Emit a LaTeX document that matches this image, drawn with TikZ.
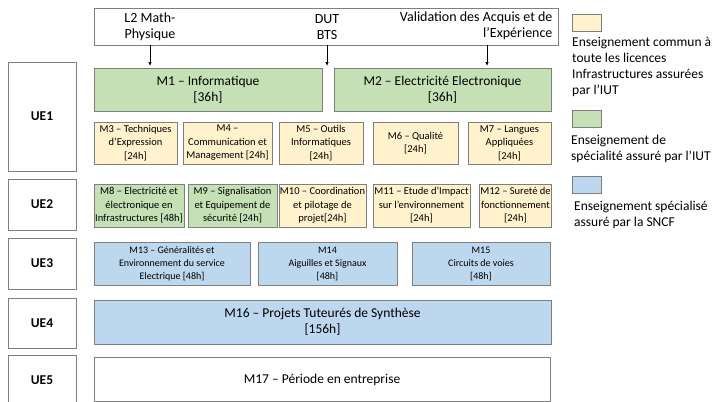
\documentclass[tikz,border=0pt]{standalone}
\usepackage{fontspec}
\setmainfont{Carlito}
\usetikzlibrary{arrows.meta}

\definecolor{jaune}{HTML}{FFF2CC}
\definecolor{vert}{HTML}{C5E0B4}
\definecolor{bleu}{HTML}{BDD7EE}
\definecolor{bord}{HTML}{7F7F7F}

\tikzset{
	boite/.style={draw=bord, line width=0.75pt, align=center, inner sep=1pt, outer sep=0pt},
	ue/.style={boite, fill=white, minimum width=68pt, font=\fontsize{13.5}{15}\selectfont\bfseries},
	grand/.style={boite, font=\fontsize{13.5}{16}\selectfont},
	petit/.style={boite, fill=jaune, font=\fontsize{10.5}{13.5}\selectfont},
	sncf/.style={boite, fill=bleu, font=\fontsize{10}{13}\selectfont},
	entree/.style={font=\fontsize{14}{16}\selectfont},
	carre/.style={boite, minimum width=29pt, minimum height=17pt},
	legende/.style={anchor=north west, align=left, inner sep=0pt, font=\fontsize{13.5}{16}\selectfont},
	fleche/.style={-{Latex[length=4pt,width=3.5pt]}, line width=0.7pt, shorten >=2pt}
}

\begin{document}
\begin{tikzpicture}[x=1pt,y=-1pt]
	\useasboundingbox (0,0) rectangle (716,402);
	% entrees
	\node[grand, minimum width=464pt, minimum height=37pt] (top) at (326,26.5) {};
	\node[entree, align=center] (l2) at (150,27) {L2 Math-\\Physique};
	\node[entree, align=center] (dut) at (327,27) {DUT\\BTS};
	\node[entree, align=right, anchor=east] (vae) at (556,26) {Validation des Acquis et de\\l’Expérience};
	\coordinate (pvae) at (487,45);
	% unites
	\node[ue, minimum height=109pt] (ue1) at (42,116.5) {UE1};
	\node[ue, minimum height=51pt] (ue2) at (42,204.5) {UE2};
	\node[ue, minimum height=51pt] (ue3) at (42,263.5) {UE3};
	\node[ue, minimum height=50pt] (ue4) at (42,323) {UE4};
	\node[ue, minimum height=50pt] (ue5) at (42,380) {UE5};
	% UE1
	\node[grand, fill=vert, minimum width=228pt, minimum height=43pt] (m1) at (208,89.5) {M1 – Informatique\\{[36h]}};
	\node[grand, fill=vert, minimum width=217pt, minimum height=43pt] (m2) at (442.5,89.5) {M2 – Electricité Electronique\\{[36h]}};
	\node[petit, minimum width=83pt, minimum height=42pt] (m3) at (135.5,143) {M3 – Techniques\\d’Expression\\{[24h]}};
	\node[petit, minimum width=89pt, minimum height=42pt] (m4) at (227.5,143) {M4 –\\Communication et\\Management [24h]};
	\node[petit, minimum width=84pt, minimum height=42pt] (m5) at (321,143) {M5 – Outils\\Informatiques\\{[24h]}};
	\node[petit, minimum width=85pt, minimum height=42pt] (m6) at (415.5,143) {M6 – Qualité\\{[24h]}};
	\node[petit, minimum width=83pt, minimum height=42pt] (m7) at (509.5,143) {M7 – Langues\\Appliquées\\{[24h]}};
	% UE2
	\node[petit, fill=vert, minimum width=90pt, minimum height=43pt] (m8) at (139,205.5) {M8 – Electricité et\\électronique en\\Infrastructures [48h]};
	\node[petit, fill=vert, minimum width=89pt, minimum height=43pt] (m9) at (232.5,205.5) {M9 – Signalisation\\et Equipement de\\sécurité [24h]};
	\node[petit, minimum width=87pt, minimum height=43pt] (m10) at (322.5,205.5) {M10 – Coordination\\et pilotage de\\projet[24h]};
	\node[petit, minimum width=97pt, minimum height=43pt] (m11) at (421.5,205.5) {M11 – Etude d’Impact\\sur l’environnement\\{[24h]}};
	\node[petit, minimum width=71pt, minimum height=43pt] (m12) at (515.5,205.5) {M12 – Sureté de\\fonctionnement\\{[24h]}};
	% UE3
	\node[sncf, minimum width=156pt, minimum height=43pt] (m13) at (172,263.5) {M13 – Généralités et\\Environnement du service\\Electrique [48h]};
	\node[sncf, minimum width=139pt, minimum height=43pt] (m14) at (327.5,263.5) {M14\\Aiguilles et Signaux\\{[48h]}};
	\node[sncf, minimum width=138pt, minimum height=43pt] (m15) at (481,263.5) {M15\\Circuits de voies\\{[48h]}};
	% UE4 et UE5
	\node[grand, fill=bleu, minimum width=457pt, minimum height=44pt] (m16) at (322.5,322) {M16 – Projets Tuteurés de Synthèse\\{[156h]}};
	\node[grand, fill=white, minimum width=456pt, minimum height=44pt] (m17) at (322,379.5) {M17 – Période en entreprise};
	% fleches
	\draw[fleche] (top.south -| l2) -- (m1.north -| l2);
	\draw[fleche] (top.south -| dut) -- (m1.north -| dut);
	\draw[fleche] (pvae) -- (pvae |- m2.north);
	% legende
	\node[carre, fill=jaune] (c1) at (586.5,23) {};
	\node[legende] (t1) at (572,37) {Enseignement commun à\\toute les licences\\Infrastructures assurées\\par l’IUT};
	\node[carre, fill=vert] (c2) at (586.5,119) {};
	\node[legende] (t2) at (571,135) {Enseignement de\\spécialité assuré par l’IUT};
	\node[carre, fill=bleu] (c3) at (586.5,185) {};
	\node[legende] (t3) at (574,201) {Enseignement spécialisé\\assuré par la SNCF};
\end{tikzpicture}
\end{document}
